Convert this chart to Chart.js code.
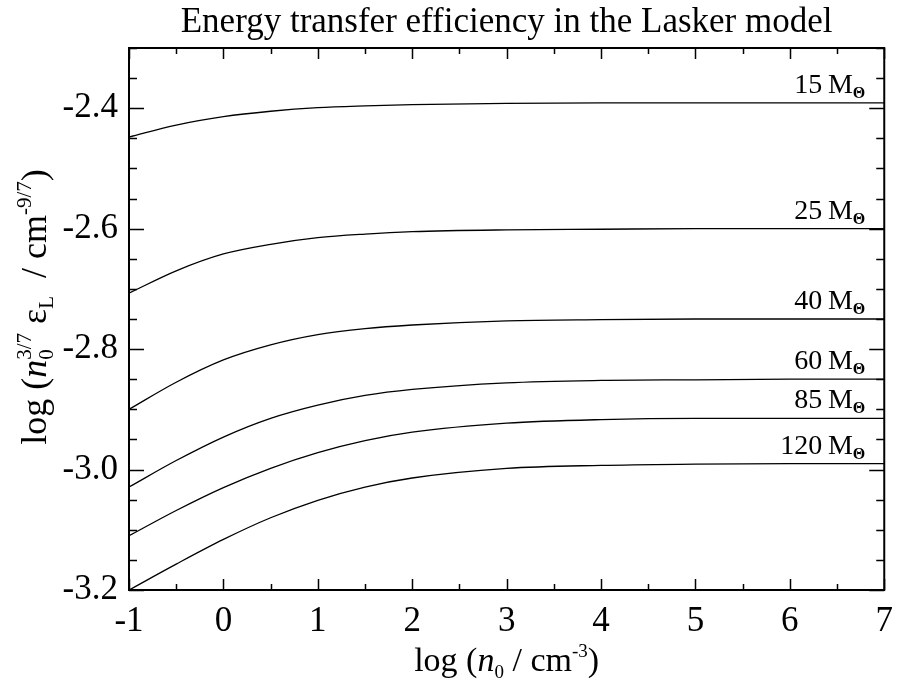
<!DOCTYPE html>
<html>
<head>
<meta charset="utf-8">
<script src="https://cdn.jsdelivr.net/npm/chart.js@4.4.1/dist/chart.umd.min.js"></script>
<style>
html, body { margin: 0; padding: 0; background: #ffffff; }
#wrap { width: 904px; height: 679px; }
</style>
</head>
<body>
<div id="wrap"><canvas id="chart" width="904" height="679"></canvas></div>
<script>
// log n0 sample points (cm^-3)
var logDensity = [-1, -0.5, 0, 0.5, 1, 1.5, 2, 3, 4, 5, 6, 7];

// log(n0^3/7 eps_L) for each stellar mass
var eff15  = [-2.448, -2.428, -2.414, -2.405, -2.399, -2.396, -2.394, -2.392, -2.391, -2.391, -2.391, -2.391];
var eff25  = [-2.707, -2.670, -2.642, -2.626, -2.615, -2.609, -2.605, -2.602, -2.601, -2.600, -2.600, -2.600];
var eff40  = [-2.900, -2.855, -2.818, -2.793, -2.776, -2.766, -2.760, -2.753, -2.751, -2.750, -2.750, -2.750];
var eff60  = [-3.029, -2.985, -2.946, -2.915, -2.893, -2.877, -2.867, -2.856, -2.852, -2.851, -2.850, -2.850];
var eff85  = [-3.110, -3.068, -3.030, -2.998, -2.972, -2.952, -2.938, -2.923, -2.917, -2.915, -2.915, -2.915];
var eff120 = [-3.200, -3.157, -3.116, -3.080, -3.051, -3.029, -3.014, -2.998, -2.993, -2.991, -2.990, -2.990];

var massLabels = ["15", "25", "40", "60", "85", "120"];
var xTickValues = [-1, 0, 1, 2, 3, 4, 5, 6, 7];
var yTickValues = [-3.2, -3.0, -2.8, -2.6, -2.4];

var SERIF = "'Liberation Serif', 'Times New Roman', serif";
var BASE = 34;

var toPoints = function( ys ){
    var pts = [];
    for( var i = 0; i < logDensity.length; i++ ){
        pts.push({ x: logDensity[i], y: ys[i] });
    }
    return pts;
};

var allSeries = [eff15, eff25, eff40, eff60, eff85, eff120];
var datasets = allSeries.map(function( ys, i ){
    return {
        label: massLabels[i] + " M",
        data: toPoints( ys ),
        borderColor: "#000000",
        borderWidth: 1.3,
        pointRadius: 0,
        fill: false,
        cubicInterpolationMode: "monotone"
    };
});

// draws a run of text pieces (font / vertical shift), optionally stacked sup+sub
var measureRich = function( ctx, segs ){
    var w = 0;
    segs.forEach(function( s ){
        if( s.stack ){
            var m = 0;
            s.stack.forEach(function( p ){ ctx.font = p.font; m = Math.max( m, ctx.measureText( p.t ).width ); });
            w += m;
        }else{
            ctx.font = s.font;
            w += ctx.measureText( s.t ).width;
        }
    });
    return w;
};
var drawRich = function( ctx, segs, cx, baseY ){
    var x = cx - measureRich( ctx, segs ) / 2;
    ctx.textAlign = "left";
    ctx.textBaseline = "alphabetic";
    segs.forEach(function( s ){
        if( s.stack ){
            var m = 0;
            s.stack.forEach(function( p ){
                ctx.font = p.font;
                ctx.fillText( p.t, x, baseY + p.dy );
                m = Math.max( m, ctx.measureText( p.t ).width );
            });
            x += m;
        }else{
            ctx.font = s.font;
            ctx.fillText( s.t, x, baseY + (s.dy || 0) );
            x += ctx.measureText( s.t ).width;
        }
    });
};

var fNorm  = BASE + "px " + SERIF;
var fItal  = "italic " + BASE + "px " + SERIF;
var fSmall = Math.round( BASE * 0.55 ) + "px " + SERIF;
var fNormY  = "36px " + SERIF;
var fItalY  = "italic 36px " + SERIF;
var fSmallY = "21px " + SERIF;

var xTitle = [
    { t: "log (", font: fNorm },
    { t: "n", font: fItal },
    { t: "0", font: fSmall, dy: 7 },
    { t: " / cm", font: fNorm },
    { t: "-3", font: fSmall, dy: -14 },
    { t: ")", font: fNorm }
];
var yTitle = [
    { t: "log (", font: fNormY },
    { t: "n", font: fItalY },
    { stack: [ { t: "3/7", font: fSmallY, dy: -15 }, { t: "0", font: fSmallY, dy: 7 } ] },
    { t: " \u03b5", font: fNormY },
    { t: "L", font: fSmallY, dy: 7 },
    { t: "  / cm", font: fNormY },
    { t: "-9/7", font: fSmallY, dy: -15 },
    { t: ")", font: fNormY }
];

var framePlugin = {
    id: "frame",
    afterDraw: function( chart ){
        var ctx = chart.ctx;
        var a = chart.chartArea;
        var xs = chart.scales.x, ys = chart.scales.y;
        ctx.save();
        ctx.strokeStyle = "#000000";
        ctx.fillStyle = "#000000";

        // box
        ctx.lineWidth = 2;
        ctx.strokeRect( a.left, a.top, a.right - a.left, a.bottom - a.top );

        // inward ticks on all four sides
        ctx.lineWidth = 1.5;
        ctx.beginPath();
        var v, px, len;
        for( v = xs.min; v <= xs.max + 1e-9; v += 0.5 ){
            px = Math.round( xs.getPixelForValue( v ) ) + 0.5;
            len = (Math.abs( v - Math.round( v ) ) < 1e-6) ? 11 : 6;
            ctx.moveTo( px, a.bottom ); ctx.lineTo( px, a.bottom - len );
            ctx.moveTo( px, a.top );    ctx.lineTo( px, a.top + len );
        }
        for( v = ys.min; v <= ys.max + 1e-9; v += 0.05 ){
            px = Math.round( ys.getPixelForValue( v ) ) + 0.5;
            var k = Math.round( (v - ys.min) / 0.05 );
            len = (k % 4 === 0) ? 15 : 8;
            ctx.moveTo( a.left, px );  ctx.lineTo( a.left + len, px );
            ctx.moveTo( a.right, px ); ctx.lineTo( a.right - len, px );
        }
        ctx.stroke();

        // title
        ctx.font = "35px " + SERIF;
        ctx.textAlign = "center";
        ctx.textBaseline = "alphabetic";
        ctx.fillText( "Energy transfer efficiency in the Lasker model", (a.left + a.right) / 2, 32 );

        // axis titles
        drawRich( ctx, xTitle, (a.left + a.right) / 2, 671 );
        ctx.save();
        ctx.translate( 46, (a.top + a.bottom) / 2 - 12 );
        ctx.rotate( -Math.PI / 2 );
        drawRich( ctx, yTitle, 0, 0 );
        ctx.restore();

        // mass labels above the flat end of each curve
        allSeries.forEach(function( ysr, i ){
            var yy = ys.getPixelForValue( ysr[ ysr.length - 1 ] ) - 10;
            var right = a.right - 19;
            ctx.font = "bold 16px " + SERIF;
            ctx.textAlign = "right";
            ctx.fillText( "\u0398", right, yy + 5 );
            var sw = ctx.measureText( "\u0398" ).width;
            ctx.font = "28px " + SERIF;
            ctx.fillText( massLabels[i] + "\u2009M", right - sw, yy );
        });
        ctx.restore();
    }
};

var ctx = document.getElementById("chart").getContext("2d");
var chart = new Chart( ctx, {
    type: "line",
    data: { datasets: datasets },
    options: {
        responsive: false,
        animation: false,
        devicePixelRatio: 1,
        layout: { padding: { top: 48, right: 9, left: 0, bottom: 0 } },
        plugins: {
            legend: { display: false },
            tooltip: { enabled: false },
            title: { display: false }
        },
        scales: {
            x: {
                type: "linear",
                min: -1,
                max: 7,
                grid: { display: false, drawTicks: false },
                border: { display: false },
                afterBuildTicks: function( scale ){
                    scale.ticks = xTickValues.map(function( v ){ return { value: v }; });
                },
                afterFit: function( scale ){ scale.height = 89; },
                ticks: {
                    color: "#000000",
                    padding: 11,
                    maxRotation: 0,
                    font: { family: SERIF, size: 35 },
                    callback: function( v ){ return String( v ); }
                }
            },
            y: {
                type: "linear",
                min: -3.2,
                max: -2.3,
                grid: { display: false, drawTicks: false },
                border: { display: false },
                afterBuildTicks: function( scale ){
                    scale.ticks = yTickValues.map(function( v ){ return { value: v }; });
                },
                afterFit: function( scale ){ scale.width = 129; },
                ticks: {
                    color: "#000000",
                    padding: 11,
                    font: { family: SERIF, size: 35 },
                    callback: function( v ){ return Number( v ).toFixed( 1 ); }
                }
            }
        }
    },
    plugins: [ framePlugin ]
});
</script>
</body>
</html>
